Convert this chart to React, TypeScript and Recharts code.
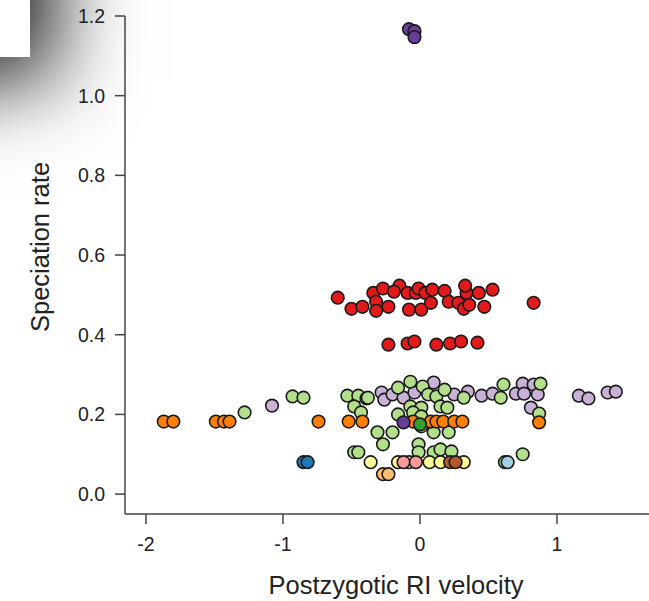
import { ScatterChart, Scatter, XAxis, YAxis } from 'recharts';

// tick positions
const xTicks = [-2, -1, 0, 1];
const yTicks = [0, 0.2, 0.4, 0.6, 0.8, 1.0, 1.2];

// points per clade colour, [RI velocity, speciation rate]
const darkPurple = [[-0.08, 1.167], [-0.04, 1.162], [-0.04, 1.147], [-0.12, 0.18]];
const red = [
  [-0.6, 0.493], [-0.5, 0.465], [-0.42, 0.47], [-0.34, 0.505], [-0.32, 0.483], [-0.32, 0.46],
  [-0.27, 0.516], [-0.23, 0.47], [-0.15, 0.523], [-0.19, 0.508], [-0.09, 0.505], [-0.03, 0.505],
  [-0.01, 0.516], [0.04, 0.505], [0.09, 0.513], [0.18, 0.51], [-0.08, 0.463], [0.01, 0.463],
  [0.08, 0.48], [0.21, 0.483], [0.28, 0.48], [0.32, 0.465], [0.36, 0.475], [0.34, 0.505],
  [0.33, 0.523], [0.43, 0.505], [0.53, 0.513], [0.47, 0.47], [0.83, 0.48],
  [-0.23, 0.375], [-0.09, 0.378], [-0.04, 0.383], [0.12, 0.375], [0.22, 0.378], [0.3, 0.383], [0.42, 0.38],
];
const orange = [
  [-1.87, 0.182], [-1.8, 0.182], [-1.49, 0.182], [-1.43, 0.182], [-1.39, 0.182], [-0.74, 0.182],
  [-0.52, 0.182], [-0.42, 0.182], [-0.05, 0.182], [0.08, 0.182], [0.12, 0.182], [0.17, 0.182],
  [0.25, 0.182], [0.31, 0.182], [0.87, 0.18],
];
const lightPurple = [
  [-1.08, 0.222], [-0.28, 0.255], [-0.26, 0.237], [-0.2, 0.25], [-0.12, 0.242], [-0.04, 0.255],
  [0.1, 0.28], [0.25, 0.25], [0.35, 0.257], [0.45, 0.247], [0.53, 0.252], [0.7, 0.252],
  [0.75, 0.277], [0.83, 0.275], [0.76, 0.252], [0.86, 0.25], [0.81, 0.217], [1.16, 0.247],
  [1.23, 0.24], [1.37, 0.255], [1.43, 0.257],
];
const lightGreen = [
  [-1.28, 0.205], [-0.93, 0.245], [-0.85, 0.242], [-0.53, 0.247], [-0.45, 0.247], [-0.39, 0.24],
  [-0.48, 0.22], [-0.43, 0.205], [-0.38, 0.242], [-0.16, 0.267], [-0.07, 0.282], [0.02, 0.27],
  [0.06, 0.25], [0.12, 0.245], [0.18, 0.262], [0.32, 0.242], [0.59, 0.242], [0.61, 0.275],
  [0.88, 0.277], [0.87, 0.202], [-0.07, 0.22], [0.01, 0.217], [0.15, 0.22], [0.2, 0.217],
  [-0.16, 0.2], [-0.05, 0.205], [0.01, 0.195], [0.01, 0.17], [-0.31, 0.155], [-0.2, 0.155],
  [-0.27, 0.125], [0.1, 0.155], [0.21, 0.155], [-0.01, 0.125], [-0.01, 0.105], [0.1, 0.105],
  [0.15, 0.112], [0.23, 0.107], [-0.48, 0.105], [-0.45, 0.105], [0.75, 0.1], [0.62, 0.08],
];
const yellow = [[-0.36, 0.08], [-0.16, 0.08], [-0.08, 0.08], [0.07, 0.08], [0.15, 0.08], [0.32, 0.08]];
const pink = [[-0.12, 0.08], [-0.03, 0.08]];
const brown = [[0.22, 0.08], [0.26, 0.08]];
const lightBlue = [[0.64, 0.08]];
const lightOrange = [[-0.27, 0.05], [-0.23, 0.05]];
const blue = [[-0.85, 0.08], [-0.82, 0.08]];
const darkGreen = [[0.0, 0.175]];

const groups = [
  { name: 'lightPurple', pts: lightPurple, color: '#cab2d6' },
  { name: 'lightGreen', pts: lightGreen, color: '#b2df8a' },
  { name: 'red', pts: red, color: '#e31a1c' },
  { name: 'orange', pts: orange, color: '#ff7f00' },
  { name: 'darkPurple', pts: darkPurple, color: '#6a3d9a' },
  { name: 'darkGreen', pts: darkGreen, color: '#33a02c' },
  { name: 'yellow', pts: yellow, color: '#ffff99' },
  { name: 'pink', pts: pink, color: '#fb9a99' },
  { name: 'brown', pts: brown, color: '#b15928' },
  { name: 'lightBlue', pts: lightBlue, color: '#a6cee3' },
  { name: 'lightOrange', pts: lightOrange, color: '#fdbf6f' },
  { name: 'blue', pts: blue, color: '#1f78b4' },
];

const font = '"Liberation Sans", Arial, sans-serif';

const Dot = (props: any) => {
  const { cx, cy, fill } = props;
  if (cx == null || cy == null) return null;
  return <circle cx={cx} cy={cy} r={6.3} fill={fill} stroke="#1a1a1a" strokeWidth={1.6} />;
};

const XTick = (props: any) => {
  const { x, y, payload } = props;
  return (
    <text x={x} y={y} dy="0.71em" textAnchor="middle" fill="#222" fontSize={19.5} fontFamily={font}>
      {String(payload.value)}
    </text>
  );
};

const YTick = (props: any) => {
  const { x, y, payload } = props;
  return (
    <text x={x} y={y} dy="0.36em" textAnchor="end" fill="#222" fontSize={19.5} fontFamily={font}>
      {Number(payload.value).toFixed(1)}
    </text>
  );
};

export default function App() {
  return (
    <div style={{ position: 'absolute', left: 0, top: 0, width: 649, height: 601, background: '#fff', overflow: 'hidden' }}>
      {/* shadow blob, top-left corner */}
      <div
        style={{
          position: 'absolute', left: -200, top: -200, width: 230, height: 257,
          background: '#fff', boxShadow: '12px 12px 80px 12px rgba(0,0,0,0.9)',
        }}
      />
      <div style={{ position: 'absolute', left: 0, top: 0 }}>
        <ScatterChart width={649} height={601} margin={{ top: 16, right: 0, bottom: 0, left: 0 }}>
          <XAxis
            type="number"
            dataKey="x"
            domain={[-2.153, 1.672]}
            ticks={xTicks}
            allowDataOverflow
            height={87}
            tickSize={10}
            tickMargin={13}
            stroke="#444"
            strokeWidth={1.5}
            tick={<XTick />}
          />
          <YAxis
            type="number"
            dataKey="y"
            domain={[-0.05, 1.2]}
            ticks={yTicks}
            allowDataOverflow
            width={125}
            tickSize={10}
            tickMargin={10}
            stroke="#444"
            strokeWidth={1.5}
            tick={<YTick />}
          />
          {groups.map((g) => (
            <Scatter
              key={g.name}
              name={g.name}
              data={g.pts.map(([x, y]) => ({ x, y }))}
              fill={g.color}
              shape={<Dot />}
              isAnimationActive={false}
            />
          ))}
          <text x={396} y={594} textAnchor="middle" fill="#222" fontSize={25.5} fontFamily={font}>
            Postzygotic RI velocity
          </text>
          <text
            x={40}
            y={247}
            textAnchor="middle"
            dominantBaseline="central"
            fill="#222"
            fontSize={25.5}
            fontFamily={font}
            transform="rotate(-90 40 247)"
          >
            Speciation rate
          </text>
        </ScatterChart>
      </div>
    </div>
  );
}
